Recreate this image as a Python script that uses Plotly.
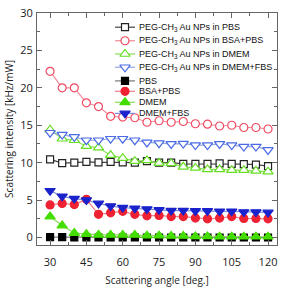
import plotly.graph_objects as go

angles = [30, 35, 40, 45, 50, 55, 60, 65, 70, 75, 80, 85, 90, 95, 100, 105, 110, 115, 120]

pbs_np = [10.45, 9.95, 10.0, 10.1, 10.05, 10.1, 10.05, 10.0, 10.2, 10.0, 10.0, 9.85, 9.85, 9.85, 9.9, 9.85, 9.8, 9.75, 9.55]
bsa_np = [22.2, 20.0, 20.0, 18.0, 17.5, 16.2, 16.1, 16.0, 15.4, 15.6, 15.4, 15.5, 15.2, 15.15, 14.9, 15.0, 14.7, 14.7, 14.5]
dmem_np = [14.4, 13.2, 13.0, 12.2, 12.0, 11.0, 10.6, 10.2, 10.3, 9.95, 9.9, 9.45, 9.3, 9.1, 9.1, 9.0, 9.0, 8.9, 8.8]
dmem_fbs_np = [14.0, 13.75, 13.45, 13.0, 13.0, 13.2, 13.2, 13.0, 12.7, 12.6, 12.5, 12.55, 12.35, 12.35, 12.5, 12.35, 12.15, 12.15, 11.7]
pbs = [0.05, 0.05, 0.0, 0.0, 0.0, 0.0, 0.0, 0.0, 0.0, 0.0, 0.0, 0.0, 0.0, 0.0, 0.0, 0.0, 0.0, 0.0, 0.0]
bsa_pbs = [4.35, 4.55, 4.4, 5.1, 3.1, 3.3, 3.5, 3.1, 2.9, 2.95, 2.8, 2.8, 2.6, 2.5, 2.6, 2.8, 2.55, 2.55, 2.5]
dmem = [2.8, 1.6, 0.6, 0.45, 0.35, 0.35, 0.35, 0.35, 0.25, 0.25, 0.2, 0.2, 0.15, 0.15, 0.1, 0.1, 0.1, 0.1, 0.1]
dmem_fbs = [6.25, 5.5, 5.2, 5.0, 4.55, 4.2, 4.0, 3.9, 3.8, 3.7, 3.6, 3.6, 3.55, 3.55, 3.5, 3.5, 3.4, 3.4, 3.35]

names = [
    "PEG-CH<sub>3</sub> Au NPs in PBS",
    "PEG-CH<sub>3</sub> Au NPs in BSA+PBS",
    "PEG-CH<sub>3</sub> Au NPs in DMEM",
    "PEG-CH<sub>3</sub> Au NPs in DMEM+FBS",
    "PBS",
    "BSA+PBS",
    "DMEM",
    "DMEM+FBS",
]
values = [pbs_np, bsa_np, dmem_np, dmem_fbs_np, pbs, bsa_pbs, dmem, dmem_fbs]
# style: (symbol, marker edge colour, marker fill, line colour, size)
styles = [
    ("square", "#222222", "white", "#444444", 7),
    ("circle", "#f04a62", "white", "#f08a98", 8),
    ("triangle-up", "#66dd22", "white", "#8ade5a", 9),
    ("triangle-down", "#4a6ae6", "white", "#94a6e0", 9),
    ("square", "#000000", "#000000", "#777777", 7),
    ("circle", "#ee2233", "#ee2233", "#f0808c", 8),
    ("triangle-up", "#44dd00", "#44dd00", "#88dd55", 9),
    ("triangle-down", "#1a22cc", "#1a22cc", "#8090dd", 9),
]

fig = go.Figure()
for name, vals, (sym, edge, fill, lcol, size) in zip(names, values, styles):
    fig.add_trace(go.Scatter(
        x=angles, y=vals, mode="lines+markers", name=name, showlegend=False,
        line=dict(color=lcol, width=1.2),
        marker=dict(symbol=sym, size=size, color=fill, line=dict(color=edge, width=1.2)),
        cliponaxis=False,
    ))

# custom compact legend (drawn on an invisible overlay axis spanning the plot area)
W, H = 283, 289
ml, mr, mt, mb = 37, 6, 5, 39
pw, ph = W - ml - mr, H - mt - mb
row_px = [20, 34.3, 48.3, 62.3, 76.7, 87.7, 99.3, 111]
line_x0, line_x1, mark_x, text_x = 115, 135, 125, 137

def fx(px):
    return (px - ml) / pw

def fy(py):
    return (mt + ph - py) / ph

for name, (sym, edge, fill, lcol, size), py in zip(names, styles, row_px):
    fig.add_trace(go.Scatter(
        x=[fx(line_x0), fx(line_x1)], y=[fy(py), fy(py)], mode="lines",
        line=dict(color=lcol, width=1.2), xaxis="x2", yaxis="y2",
        showlegend=False, hoverinfo="skip",
    ))
    fig.add_trace(go.Scatter(
        x=[fx(mark_x)], y=[fy(py)], mode="markers",
        marker=dict(symbol=sym, size=size, color=fill, line=dict(color=edge, width=1.2)),
        xaxis="x2", yaxis="y2", showlegend=False, hoverinfo="skip",
    ))
    fig.add_annotation(
        x=fx(text_x), y=fy(py), xref="paper", yref="paper", text=name,
        showarrow=False, xanchor="left", yanchor="middle",
        font=dict(family="Liberation Sans, Arial", size=9, color="#111111"),
    )

axis_common = dict(
    showline=True, linecolor="#666666", linewidth=1, mirror="ticks",
    ticks="inside", ticklen=5, tickcolor="#666666", tickwidth=1,
    showgrid=False, zeroline=False, ticklabeloverflow="allow",
    tickfont=dict(family="Open Sans", size=11, color="#222222"),
)

fig.update_layout(
    width=W, height=H,
    margin=dict(l=ml, r=mr, t=mt, b=mb, pad=0),
    paper_bgcolor="white", plot_bgcolor="white",
    showlegend=False,
    xaxis=dict(
        range=[24.6, 123.7], tickvals=[30, 45, 60, 75, 90, 105, 120],
        minor=dict(dtick=7.5, tick0=30, ticks="inside", ticklen=3, tickcolor="#666666"),
        ticklabelstandoff=7,
        title=dict(text="Scattering angle [deg.]", standoff=8,
                   font=dict(family="Open Sans", size=10, color="#222222")),
        **axis_common,
    ),
    yaxis=dict(
        range=[-1, 30], tickvals=[0, 5, 10, 15, 20, 25, 30],
        minor=dict(dtick=2.5, tick0=0, ticks="inside", ticklen=3, tickcolor="#666666"),
        ticklabelstandoff=1,
        title=dict(text="Scattering intensity [kHz/mW]", standoff=4,
                   font=dict(family="Open Sans", size=10, color="#222222")),
        **axis_common,
    ),
    xaxis2=dict(overlaying="x", range=[0, 1], visible=False, fixedrange=True),
    yaxis2=dict(overlaying="y", range=[0, 1], visible=False, fixedrange=True),
)

fig.write_html(
    "out.html",
    config={"displayModeBar": False},
    post_script="document.body.style.margin='0';document.body.style.padding='0';",
)
